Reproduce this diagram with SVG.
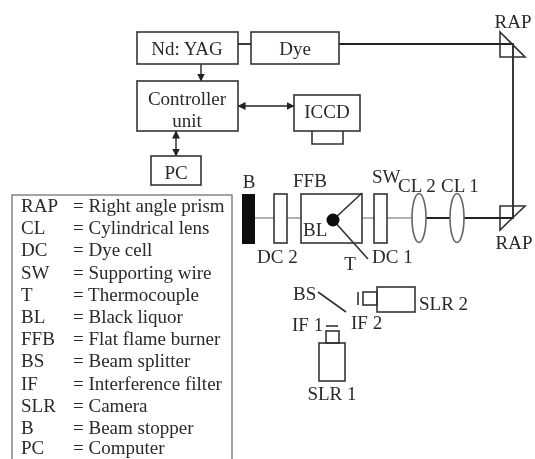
<svg xmlns="http://www.w3.org/2000/svg" width="535" height="459" viewBox="0 0 535 459">
<defs>
<marker id="ah" markerUnits="userSpaceOnUse" viewBox="0 0 8 8" refX="7.5" refY="4" markerWidth="8" markerHeight="8" orient="auto-start-reverse"><path d="M0 0L8 4L0 8Z" fill="#222"/></marker>
<filter id="soft" x="-2%" y="-2%" width="104%" height="104%"><feGaussianBlur stdDeviation="0.35"/></filter>
</defs>
<style>
text{font-family:"Liberation Serif","Times New Roman",serif;font-size:19px;fill:#2a2a2a}
.m{text-anchor:middle}
.b{fill:#fff;stroke:#333;stroke-width:1.6}
.n{fill:none;stroke:#333;stroke-width:1.6}
.th{fill:none;stroke:#666;stroke-width:1.2}
.beam{fill:none;stroke:#222;stroke-width:1.8}
.arrow{fill:none;stroke:#222;stroke-width:1.4}
</style>
<rect width="535" height="459" fill="#fff"/>
<g filter="url(#soft)">
<g id="connectors">
<path class="beam" d="M238 44H251"/>
<path class="beam" d="M339 44H513V218H500"/>
<path class="beam" d="M500 218H426"/>
<path class="th" d="M412 218H387M374 218H362M301 218H287M274 218H255"/>
<path class="arrow" d="M201 64V81" marker-end="url(#ah)"/>
<path class="arrow" d="M238 106H294" marker-start="url(#ah)" marker-end="url(#ah)"/>
<path class="arrow" d="M176 131V156" marker-start="url(#ah)" marker-end="url(#ah)"/>
<path class="n" d="M318 292L346 312"/>
<path class="n" d="M333 220L362 193M333 220L368 259" stroke-width="1.2"/>
</g>
<g id="nd-yag"><rect class="b" x="137" y="32" width="101" height="32"/><text class="m" x="187" y="55">Nd: YAG</text></g>
<g id="dye"><rect class="b" x="251" y="32" width="88" height="32"/><text class="m" x="295" y="55">Dye</text></g>
<g id="controller"><rect class="b" x="137" y="81" width="101" height="50"/><text class="m" x="187" y="105">Controller</text><text class="m" x="187" y="127">unit</text></g>
<g id="iccd"><rect class="b" x="294" y="95" width="66" height="36"/><path class="n" d="M312 131V144H343V131"/><text class="m" x="327" y="118">ICCD</text></g>
<g id="pc"><rect class="b" x="151" y="156" width="50" height="29"/><text class="m" x="176" y="179">PC</text></g>
<g id="rap-top"><path class="n" d="M500 32L525 57H500Z"/><text class="m" x="513" y="28">RAP</text></g>
<g id="rap-bottom"><path class="n" d="M500 206H525L500 230Z"/><text class="m" x="514" y="249">RAP</text></g>
<g id="beam-stopper"><rect x="242" y="194" width="13" height="50" fill="#111"/><text class="m" x="249" y="188">B</text></g>
<g id="dc2"><rect class="b" x="274" y="194" width="13" height="49"/><text x="257" y="263">DC 2</text></g>
<g id="ffb"><rect class="n" x="301" y="194" width="61" height="49"/><text x="293" y="187">FFB</text><text x="303" y="236">BL</text><circle cx="333" cy="220" r="6.5" fill="#111"/></g>
<g id="labels-burner"><text x="372" y="183">SW</text><text class="m" x="350" y="270">T</text><text x="372" y="263">DC 1</text></g>
<g id="dc1"><rect class="b" x="374" y="194" width="13" height="49"/></g>
<g id="cl2"><ellipse class="b" cx="419" cy="218" rx="7" ry="24.5" style="stroke:#666"/><text x="398" y="192">CL 2</text></g>
<g id="cl1"><ellipse class="b" cx="457" cy="218" rx="7" ry="24.5" style="stroke:#666"/><text x="441" y="192">CL 1</text></g>
<g id="bs"><text x="293" y="300">BS</text></g>
<g id="if2"><path class="n" d="M358 292V305"/><text x="351" y="329">IF 2</text></g>
<g id="if1"><path class="n" d="M326 326H338"/><text x="292" y="331">IF 1</text></g>
<g id="slr2"><rect class="n" x="363" y="292" width="14" height="13"/><rect class="n" x="377" y="287" width="38" height="25"/><text x="419" y="310">SLR 2</text></g>
<g id="slr1"><rect class="n" x="326" y="331" width="13" height="12"/><rect class="n" x="319" y="343" width="26" height="38"/><text class="m" x="332" y="400">SLR 1</text></g>
<g id="legend">
<rect x="12" y="195" width="220" height="270" fill="#fff" stroke="#666" stroke-width="1.2"/>
<text x="21" y="212">RAP</text><text x="73" y="212">= Right angle prism</text>
<text x="21" y="234">CL</text><text x="73" y="234">= Cylindrical lens</text>
<text x="21" y="256">DC</text><text x="73" y="256">= Dye cell</text>
<text x="21" y="279">SW</text><text x="73" y="279">= Supporting wire</text>
<text x="21" y="301">T</text><text x="73" y="301">= Thermocouple</text>
<text x="21" y="323">BL</text><text x="73" y="323">= Black liquor</text>
<text x="21" y="345">FFB</text><text x="73" y="345">= Flat flame burner</text>
<text x="21" y="367">BS</text><text x="73" y="367">= Beam splitter</text>
<text x="21" y="390">IF</text><text x="73" y="390">= Interference filter</text>
<text x="21" y="412">SLR</text><text x="73" y="412">= Camera</text>
<text x="21" y="434">B</text><text x="73" y="434">= Beam stopper</text>
<text x="21" y="454">PC</text><text x="73" y="454">= Computer</text>
</g>
</g>
</svg>
